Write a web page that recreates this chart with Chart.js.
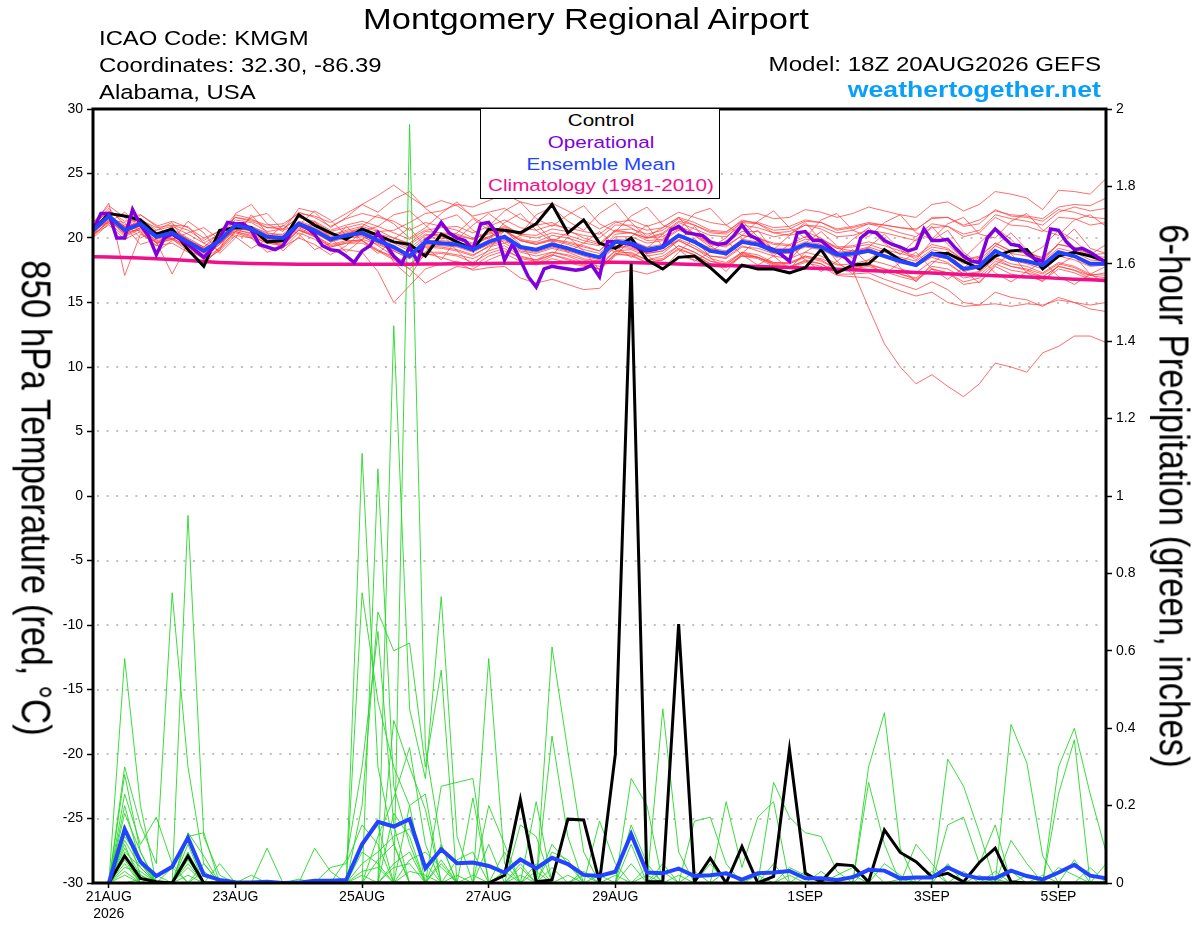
<!DOCTYPE html>
<html>
<head>
<meta charset="utf-8">
<title>Montgomery Regional Airport - GEFS</title>
<script src="https://cdn.jsdelivr.net/npm/chart.js@4.4.1/dist/chart.umd.min.js"></script>
<style>
  html, body { margin: 0; padding: 0; background: #fff; }
  #wrap { position: relative; width: 1200px; height: 927px; overflow: hidden;
          font-family: 'Liberation Sans', Arial, sans-serif; }
  #wrap canvas { position: absolute; left: 0; top: 0; }
  .txt { position: absolute; white-space: nowrap; line-height: 1; color: #000; }
  .left { transform-origin: left center; transform: scaleX(1.2); }
  .right { transform-origin: right center; transform: scaleX(1.2); }
  .center { transform: translateX(-50%) scaleX(1.2); }
  .vert { transform: translate(-50%, -50%) rotate(90deg) scaleY(1.2); font-size: 34.8px; }
  #legendBox { position: absolute; left: 479.5px; top: 108px; width: 240px; height: 91px;
               box-sizing: border-box; border: 1.5px solid #000; background: #fff; }
  #legendBox .txt { font-size: 17.2px; left: 120px; }
</style>
</head>
<body>
<div id="wrap">
  <canvas id="gefs"></canvas>

  <div class="txt center" style="left:586px; top:5px; font-size:28.7px;">Montgomery Regional Airport</div>
  <div class="txt left" style="left:98.5px; top:28.9px; font-size:19.9px;">ICAO Code: KMGM</div>
  <div class="txt left" style="left:98.5px; top:55.9px; font-size:19.9px;">Coordinates: 32.30, -86.39</div>
  <div class="txt left" style="left:98.5px; top:82.5px; font-size:19.9px;">Alabama, USA</div>
  <div class="txt right" style="right:99.5px; top:53.7px; font-size:20.1px;">Model: 18Z 20AUG2026 GEFS</div>
  <div class="txt right" style="right:99px; top:78.5px; font-size:22.2px; font-weight:bold; color:#0aa0f7;">weathertogether.net</div>

  <div id="legendBox">
    <div class="txt center" style="top:3px; color:#000;">Control</div>
    <div class="txt center" style="top:24.5px; color:#8000dd;">Operational</div>
    <div class="txt center" style="top:46.5px; color:#2244ff;">Ensemble Mean</div>
    <div class="txt center" style="top:68px; color:#f0108c;">Climatology (1981-2010)</div>
  </div>

  <div class="txt vert" style="left:35px; top:498px;">850 hPa Temperature (red, °C)</div>
  <div class="txt vert" style="left:1173px; top:496px;">6-hour Precipitation (green, inches)</div>
</div>

<script>
// valid times: 6-hourly from 18Z 20AUG2026 (hour 0) to hour 384
const stepHours = 6;
const opStepHours = 3;   // operational run is 3-hourly

const tickHours = [6, 54, 102, 150, 198, 270, 318, 366];
const tickLabels = [['21AUG', '2026'], '23AUG', '25AUG', '27AUG', '29AUG', '1SEP', '3SEP', '5SEP'];

// 850 hPa temperature (C)
const controlTemp = [
  20.6, 21.9, 21.7, 21.4, 20.3, 20.7, 19.1, 17.8, 20.6, 20.8,
  20.8, 19.7, 19.8, 21.8, 21.0, 20.4, 19.9, 20.7, 20.2, 19.7,
  19.5, 18.6, 20.3, 19.7, 19.1, 20.7, 20.6, 20.4, 21.1, 22.6,
  20.4, 21.4, 19.6, 19.2, 20.0, 18.3, 17.6, 18.5, 18.6, 17.7,
  16.6, 17.9, 17.6, 17.6, 17.3, 17.7, 19.1, 17.3, 17.9, 18.0,
  19.1, 18.3, 17.9, 18.8, 18.8, 18.2, 17.6, 18.6, 19.0, 19.1,
  17.6, 18.6, 18.9, 18.6, 18.2
];

const meanTemp = [
  20.6, 21.7, 20.6, 21.1, 20.1, 20.4, 19.7, 19.0, 19.8, 21.0,
  20.7, 20.1, 20.0, 21.1, 20.6, 19.9, 20.2, 20.4, 19.8, 19.3,
  18.6, 19.7, 19.6, 19.5, 19.1, 19.7, 20.1, 19.3, 19.1, 19.5,
  19.2, 18.8, 18.5, 19.7, 19.6, 19.1, 19.3, 20.2, 19.7, 19.0,
  18.8, 19.7, 19.5, 19.0, 19.0, 19.5, 19.3, 18.7, 18.8, 19.0,
  18.6, 18.2, 17.9, 18.8, 18.5, 17.6, 17.8, 19.0, 18.4, 18.2,
  17.9, 18.9, 18.6, 18.0, 18.0
];

const operationalTemp = [
  20.6, 21.9, 21.9, 20.0, 20.0, 22.2, 21.0, 20.2, 18.7, 20.0,
  20.3, 19.9, 19.5, 19.0, 18.5, 19.1, 20.0, 21.2, 21.1, 21.1,
  20.6, 19.5, 19.3, 19.1, 19.4, 20.4, 21.1, 20.8, 20.3, 19.4,
  19.1, 19.0, 18.6, 18.1, 19.0, 19.4, 20.4, 19.5, 18.6, 18.0,
  19.3, 18.2, 19.8, 20.3, 21.2, 20.4, 20.0, 19.8, 19.1, 21.1,
  21.2, 20.4, 18.3, 19.5, 18.3, 17.0, 16.2, 17.6, 17.8, 17.7,
  17.6, 17.5, 17.6, 17.9, 17.0, 19.7, 19.7, 19.6, 19.5, 19.2,
  19.0, 19.1, 19.3, 20.6, 20.9, 20.4, 20.3, 20.2, 19.7, 19.5,
  19.6, 20.2, 21.0, 20.2, 19.9, 19.3, 19.1, 18.7, 18.2, 20.4,
  20.5, 19.8, 19.8, 19.3, 18.8, 18.5, 17.9, 20.0, 20.5, 20.4,
  19.8, 19.5, 19.3, 19.0, 19.2, 20.7, 19.8, 19.8, 19.9, 19.2,
  18.6, 18.2, 18.1, 20.0, 20.7, 20.1, 19.5, 19.4, 18.8, 18.4,
  18.2, 20.7, 20.6, 19.7, 19.1, 19.2, 18.9, 18.5, 18.1
];

const climatologyTemp = [
  18.55, 18.52, 18.48, 18.44, 18.39, 18.33, 18.26, 18.18, 18.11, 18.06,
  18.02, 18.00, 17.98, 17.97, 17.96, 17.96, 17.96, 17.96, 17.96, 17.97,
  17.97, 17.98, 17.99, 18.00, 18.01, 18.02, 18.04, 18.05, 18.07, 18.08,
  18.10, 18.11, 18.12, 18.12, 18.10, 18.07, 18.03, 17.99, 17.95, 17.91,
  17.87, 17.83, 17.79, 17.75, 17.71, 17.67, 17.63, 17.58, 17.53, 17.48,
  17.43, 17.38, 17.33, 17.28, 17.23, 17.18, 17.13, 17.08, 17.03, 16.98,
  16.93, 16.87, 16.81, 16.76, 16.70
];

const tempMembers = [
  [20.9,22.3,21.0,21.5,20.6,20.9,20.3,19.6,20.3,21.4, 21.2,20.5,20.7,21.6,21.3,20.6,21.0,21.3,20.9,20.4,
   19.9,20.6,20.8,20.9,20.4,20.9,21.4,20.8,20.6,21.0, 20.8,20.5,20.3,21.2,21.4,20.9,21.3,22.0,21.6,21.2,
   21.0,21.8,21.9,21.5,21.6,22.2,22.0,21.6,21.9,22.4, 22.1,21.8,21.6,22.6,22.8,22.1,22.6,23.6,23.4,23.1,
   22.2,23.7,23.6,23.4,24.6],
  [20.4,21.5,20.2,20.8,19.8,20.0,19.3,18.7,19.5,20.6, 20.4,19.8,19.6,20.8,20.2,19.4,19.7,19.9,19.5,19.0,
   18.4,19.3,19.2,19.0,18.6,19.4,19.8,19.0,18.8,19.2, 18.9,18.4,18.2,19.3,19.2,18.8,19.0,19.9,19.4,18.6,
   18.5,19.4,19.0,18.6,18.4,18.9,18.6,18.0,17.5,14.6, 11.8,10.0,8.7,9.4,8.5,7.7,8.7,10.3,10.0,9.6,
   11.1,11.6,12.4,12.4,11.9],
  [20.2,21.3,20.5,20.6,19.6,19.9,19.2,18.4,19.2,20.5, 20.1,19.6,19.4,20.6,20.1,19.3,19.6,19.8,19.0,18.3,
   17.6,18.7,18.8,18.6,18.1,18.8,19.2,18.4,18.2,18.7, 18.3,17.9,17.6,18.8,18.9,18.3,18.6,19.4,18.9,18.2,
   18.0,18.8,18.5,18.0,17.8,18.2,18.0,17.2,17.2,17.3, 16.8,16.4,16.0,16.6,16.0,15.0,14.8,15.8,15.4,15.2,
   14.7,15.4,15.0,14.5,14.3],
  [21.0,22.1,21.3,21.4,20.8,21.0,20.6,19.8,20.6,21.6, 21.4,21.0,21.1,21.9,21.7,21.2,21.9,22.6,23.3,24.1,
   23.2,22.4,22.9,22.5,21.7,22.0,22.3,21.5,21.0,21.2, 20.6,20.0,19.6,20.6,20.4,19.8,19.9,20.7,20.3,19.6,
   19.4,20.2,20.0,19.6,19.5,20.1,19.9,19.3,19.4,19.7, 19.4,19.0,18.6,19.5,19.2,18.3,18.6,19.6,19.0,18.9,
   18.4,19.5,19.3,18.7,18.8],
  [20.3,21.0,19.9,20.5,19.4,19.6,18.9,18.1,19.1,20.4, 20.0,19.3,19.2,20.4,19.9,19.0,19.1,18.9,17.4,15.0,
   16.3,17.6,18.0,18.2,17.8,18.6,19.0,18.5,18.3,18.9, 18.7,18.3,18.0,19.0,19.1,18.6,18.8,19.8,19.2,18.6,
   18.4,19.3,19.2,18.8,18.8,19.3,19.1,18.5,18.6,18.9, 18.6,18.2,17.8,18.6,18.4,17.4,17.7,18.8,18.3,18.0,
   17.6,18.6,18.3,17.8,17.9],
  [20.7,21.9,20.8,21.3,20.3,20.7,20.0,19.3,20.1,21.2, 20.9,20.3,20.3,21.3,20.9,20.2,20.6,20.9,20.5,20.6,
   21.2,21.9,22.1,22.6,22.4,22.9,23.4,22.8,22.5,22.7, 22.1,21.4,20.7,21.3,20.8,20.0,20.1,20.9,20.4,19.7,
   19.6,20.5,20.5,20.1,20.3,21.0,20.9,20.4,20.6,21.1, 21.0,20.8,20.7,21.5,21.6,20.9,21.1,22.2,21.7,21.6,
   21.3,22.2,22.0,21.6,21.5],
  [20.5,21.6,20.4,21.0,19.9,20.2,19.4,18.8,19.6,20.9, 20.5,19.9,19.8,20.9,20.4,19.7,20.0,20.1,19.6,19.0,
   18.4,19.4,19.3,19.1,18.7,19.3,19.6,18.9,18.6,18.9, 18.6,18.1,17.8,19.0,18.8,18.3,18.4,19.4,18.9,18.2,
   17.9,18.9,18.7,18.1,18.0,18.6,18.3,17.6,17.7,18.0, 17.6,17.2,16.8,17.6,17.3,16.4,16.6,17.8,17.2,17.0,
   16.7,17.6,17.3,16.8,16.8],
  [20.8,21.8,20.9,21.2,20.2,20.6,19.9,19.2,19.9,21.1, 20.9,20.4,20.2,21.2,20.8,20.1,20.5,20.7,20.3,20.0,
   19.5,20.3,20.1,20.0,19.6,20.1,20.6,19.9,19.7,20.2, 20.0,19.6,19.4,20.6,20.7,20.3,20.6,21.5,21.0,20.4,
   20.3,21.2,21.1,20.6,20.7,21.3,21.2,20.6,20.8,21.1, 20.8,20.4,20.1,21.1,20.9,20.1,20.4,21.6,21.0,20.9,
   20.5,21.6,21.5,21.0,21.2],
  [20.6,21.5,20.5,20.9,20.0,20.3,19.6,18.9,19.7,20.8, 20.6,20.0,19.9,20.9,20.4,19.8,20.1,20.2,19.4,18.6,
   17.6,16.5,17.2,17.8,17.6,18.3,18.8,18.2,17.9,18.4, 18.1,17.8,17.6,18.7,18.7,18.1,18.3,19.1,18.7,18.0,
   17.8,18.6,18.4,17.8,17.7,18.3,18.0,17.4,17.6,17.8, 17.4,17.0,16.7,17.6,17.3,16.6,16.9,18.0,17.5,17.3,
   17.0,17.8,17.5,17.1,16.9],
  [21.0,22.7,17.1,20.3,19.7,17.2,19.6,19.2,19.6,20.7, 20.6,19.7,19.8,21.2,20.6,19.7,20.3,20.6,20.0,19.6,
   19.0,20.0,20.0,19.9,19.5,20.0,20.5,19.8,19.6,19.9, 19.7,19.4,19.0,20.1,20.1,19.6,19.8,20.6,20.2,19.5,
   19.3,20.2,20.0,19.5,19.4,19.9,19.8,19.2,19.3,19.5, 19.1,18.8,18.5,19.3,19.1,18.3,18.5,19.6,19.0,18.8,
   18.5,19.5,19.2,18.6,18.5],
  [21.2,22.5,21.6,21.8,20.9,21.3,20.8,20.0,20.5,21.8, 21.5,20.8,20.7,21.6,21.2,20.5,20.8,21.1,20.6,20.0,
   19.6,20.5,20.4,20.3,19.9,20.4,20.8,20.2,20.0,20.4, 20.2,19.8,19.5,20.5,20.4,20.0,20.3,21.2,20.7,20.2,
   20.1,21.0,20.8,20.4,20.5,21.0,20.7,20.1,20.2,20.6, 20.4,20.1,19.8,20.8,20.9,20.3,20.6,21.8,21.5,21.3,
   21.0,22.0,22.4,22.1,22.3],
  [20.4,21.4,20.3,20.8,19.7,20.0,19.3,18.6,19.5,20.7, 20.3,19.7,19.5,20.7,20.1,19.3,19.6,19.6,19.0,18.6,
   18.0,18.8,18.5,18.1,17.5,17.7,17.8,16.9,16.5,16.8, 16.4,16.0,16.1,17.3,17.5,17.2,17.6,18.6,18.3,17.8,
   17.7,18.6,18.5,18.1,18.1,18.6,18.4,17.9,18.0,18.3, 18.0,17.6,17.3,18.2,18.0,17.2,17.4,18.5,18.0,17.8,
   17.3,18.1,17.8,17.2,17.1],
  [20.2,22.0,21.6,20.4,19.4,21.0,20.9,19.6,19.0,21.9, 22.6,21.1,20.5,22.3,22.0,20.8,21.6,22.6,22.0,23.0,
   23.6,22.3,21.4,21.8,20.6,19.9,21.2,21.9,20.6,19.7, 20.4,21.3,19.6,18.9,20.1,21.0,19.3,19.8,20.9,19.4,
   18.6,19.9,20.6,19.0,18.3,19.6,20.5,19.4,18.4,19.3, 20.3,19.1,18.3,19.8,20.6,18.9,18.0,19.4,20.4,19.1,
   18.2,19.6,20.7,19.2,18.8],
  [20.5,21.7,20.6,21.0,20.0,20.3,19.5,18.9,19.8,21.0, 20.6,20.0,19.9,21.0,20.5,19.8,20.1,20.3,19.7,19.2,
   18.5,19.5,19.4,19.3,18.9,19.5,19.9,19.1,18.9,19.3, 19.0,18.6,18.3,19.4,19.3,18.8,19.0,19.8,19.2,18.4,
   18.1,18.9,18.5,17.9,17.7,18.1,17.8,17.1,17.0,16.9, 16.4,15.9,15.5,15.8,15.0,14.7,14.8,14.9,14.7,14.9,
   14.8,15.2,15.0,14.8,15.0],
  [20.0,21.1,20.9,19.5,19.9,20.8,19.0,18.5,20.6,20.1, 19.2,19.9,21.0,20.3,19.1,19.6,20.9,19.8,18.8,19.9,
   20.8,19.3,18.3,19.9,21.0,21.9,21.0,20.3,21.8,22.4, 21.3,20.6,21.9,22.7,21.2,20.1,20.8,21.6,20.2,19.3,
   20.0,21.3,20.1,19.1,20.2,21.2,19.8,18.8,19.9,20.8, 19.6,18.7,19.9,20.9,19.5,18.4,19.6,20.8,19.9,18.6,
   19.3,20.6,19.8,18.7,19.5],
  [20.3,21.2,20.1,20.7,19.6,19.9,19.0,17.9,19.3,20.5, 20.2,19.6,19.5,20.6,20.2,19.5,19.8,19.8,19.1,18.4,
   17.9,18.9,18.9,18.7,18.4,19.0,19.4,18.6,18.3,18.7, 18.4,18.0,17.6,18.8,18.6,18.1,18.3,19.2,18.7,18.0,
   17.8,18.7,18.5,18.0,18.0,18.5,18.2,17.6,17.7,17.9, 17.6,17.2,16.9,17.8,17.6,16.9,17.1,18.2,17.8,17.6,
   17.2,18.0,17.7,17.1,17.3],
  [20.6,21.6,20.8,21.2,20.3,20.5,19.8,19.3,20.4,21.6, 21.3,20.8,20.9,22.0,21.6,20.9,21.5,21.9,21.6,21.3,
   20.6,21.2,20.9,20.6,20.0,20.3,20.6,19.8,19.5,19.8, 19.5,19.1,18.8,19.9,19.8,19.3,19.5,20.3,19.8,19.2,
   19.0,19.9,19.7,19.2,19.2,19.7,19.5,18.9,19.0,19.3, 18.9,18.5,18.2,19.1,18.8,18.0,18.3,19.4,18.8,18.6,
   18.2,19.2,18.9,18.3,18.2],
  [20.7,21.9,20.5,21.3,20.4,20.6,19.9,19.1,19.9,21.2, 20.8,20.1,20.0,21.0,20.5,19.8,20.2,20.3,19.7,19.1,
   18.7,19.8,19.8,19.7,19.4,20.1,20.6,19.8,19.5,19.9, 19.6,19.3,19.0,20.3,20.4,20.0,20.4,21.3,21.0,20.5,
   20.4,21.4,21.1,20.4,20.2,20.5,20.0,19.2,19.0,19.2, 18.7,18.2,17.8,18.5,18.1,17.2,17.3,18.4,17.8,17.5,
   17.0,17.8,17.5,16.9,16.7],
  [20.7,21.2,22.0,20.9,18.9,19.8,21.3,20.4,18.8,20.0, 21.8,20.4,19.0,20.1,21.3,20.0,18.9,19.9,20.6,18.1,
   17.0,18.9,20.4,19.0,17.9,19.1,20.6,19.5,18.0,18.6, 20.1,19.0,17.5,18.6,19.9,18.7,17.6,18.9,20.0,18.5,
   17.4,18.8,19.9,18.6,17.6,18.9,19.7,18.2,17.2,18.3, 19.2,17.7,16.6,18.0,19.0,17.5,16.5,17.9,18.8,17.3,
   16.6,17.9,18.6,17.2,16.5],
  [20.8,21.7,20.9,21.1,20.3,20.6,19.8,19.1,19.8,20.9, 20.7,20.2,20.1,21.1,20.6,20.0,20.4,20.6,20.1,19.7,
   19.2,20.2,20.3,20.2,19.9,20.5,20.9,20.3,20.2,20.7, 20.5,20.2,20.0,21.0,21.0,20.6,20.8,21.6,21.2,20.6,
   20.5,21.3,21.2,20.8,20.9,21.4,21.2,20.7,20.9,21.2, 21.0,20.8,20.6,21.6,21.6,21.0,21.4,22.1,21.8,21.7,
   21.5,22.4,22.6,22.5,23.1],
  [21.3,21.9,20.3,21.8,21.0,19.9,20.4,20.8,19.9,20.5, 21.6,21.9,20.6,21.0,22.1,21.4,20.2,20.9,21.8,21.1,
   20.0,20.8,21.9,22.8,21.6,20.9,22.1,22.8,21.5,20.9, 21.8,22.5,21.1,20.5,21.7,22.4,21.0,20.6,21.9,22.3,
   21.0,20.2,21.3,22.1,20.8,20.0,21.4,21.9,20.6,20.1, 21.2,21.8,20.4,19.9,21.1,21.6,20.3,20.0,21.3,21.9,
   20.6,20.2,21.4,21.8,20.9],
  [20.1,21.4,21.2,20.0,20.6,21.2,19.4,18.3,19.0,20.2, 20.0,18.9,19.3,20.0,19.5,18.7,19.4,20.5,20.9,21.8,
   22.1,21.0,19.9,20.4,21.5,20.6,19.6,20.2,21.1,19.8, 18.9,19.6,20.5,19.4,18.5,19.2,20.3,19.1,18.2,18.9,
   19.8,18.7,17.9,18.6,19.5,18.3,17.4,18.2,19.1,18.0, 17.2,18.1,18.9,17.6,16.8,17.7,18.5,17.3,16.6,17.4,
   18.2,17.0,16.4,17.2,17.8]
];

// 6-hour precipitation (inches); no value at the analysis time
const controlPrecip = [
  null, 0, 0.07, 0.012, 0.003, 0, 0.07, 0, 0, 0,
  0, 0, 0, 0, 0, 0, 0, 0, 0, 0,
  0, 0, 0, 0, 0, 0, 0.02, 0.216, 0.003, 0.008,
  0.165, 0.163, 0.003, 0.333, 1.6, 0.003, 0.003, 0.669, 0.003, 0.064,
  0, 0.094, 0, 0.017, 0.345, 0.025, 0.003, 0.048, 0.045, 0.003,
  0.137, 0.079, 0.055, 0.016, 0.025, 0.003, 0.053, 0.09, 0.003, 0,
  0, 0, 0, 0, 0
];

const meanPrecip = [
  null, 0, 0.139, 0.055, 0.018, 0.042, 0.117, 0.021, 0.008, 0.002,
  0.001, 0.003, 0, 0.001, 0.006, 0.006, 0.008, 0.1, 0.158, 0.146,
  0.165, 0.038, 0.087, 0.051, 0.053, 0.044, 0.027, 0.061, 0.038, 0.065,
  0.049, 0.021, 0.018, 0.029, 0.126, 0.027, 0.025, 0.037, 0.018, 0.02,
  0.025, 0.009, 0.025, 0.027, 0.031, 0.012, 0.012, 0.008, 0.015, 0.034,
  0.032, 0.012, 0.014, 0.014, 0.04, 0.021, 0.012, 0.012, 0.032, 0.018,
  0.009, 0.027, 0.047, 0.019, 0.012
];

const precipMembers = [
  [null,0,0.58,0.2,0,0,0,0,0,0, 0,0,0,0,0,0,0,0.75,0.47,0.3, 0.2,0,0.05,0,0,0,0,0,0,0.61,
   0.34,0.08,0,0,0,0,0,0,0,0, 0,0,0,0,0,0,0,0,0,0.3, 0.44,0.09,0,0,0,0,0,0,0,0, 0,0,0,0,0],
  [null,0,0.3,0.15,0.05,0.75,0.3,0.05,0,0, 0,0,0,0,0,0,0,1.11,0.3,0.1, 0,0,0,0,0,0.2,0.1,0,0,0,
   0,0,0,0,0,0,0.45,0.08,0,0, 0,0,0,0,0,0,0,0,0,0, 0,0,0,0,0,0,0,0,0.41,0.31, 0.07,0,0,0,0],
  [null,0,0.28,0.08,0,0,0.95,0.12,0.02,0, 0,0,0,0,0,0,0,0,1.07,0.25, 0.1,0,0.25,0.26,0.27,0,0,0,0,0,
   0,0,0,0,0.27,0.2,0,0,0,0, 0,0,0,0.26,0.17,0.13,0.12,0.03,0,0, 0,0,0,0,0,0,0,0,0,0, 0,0,0,0,0],
  [null,0,0.23,0.1,0.17,0.05,0,0,0,0, 0,0,0,0,0,0,0,0,0,1.44, 0.45,0.27,0.74,0.12,0,0,0,0,0,0.38,
   0.12,0,0,0,0,0,0,0,0,0, 0,0,0,0,0,0,0,0,0,0, 0,0,0,0,0.32,0.25,0.13,0,0,0, 0,0,0,0,0],
  [null,0,0.2,0.05,0,0,0.12,0.13,0,0, 0,0,0,0,0,0,0,0,0,0, 1.96,0.35,0.1,0,0,0.58,0.05,0,0,0,
   0,0,0,0,0,0,0,0,0,0, 0,0,0,0,0,0,0,0,0,0, 0,0,0,0,0,0,0,0,0,0, 0,0.3,0.4,0.23,0.08],
  [null,0,0.15,0.02,0,0,0.13,0.07,0,0, 0,0,0,0,0,0,0,0.2,0.7,0.6, 0.62,0.3,0.55,0,0,0,0,0,0.21,0,
   0,0,0,0,0,0,0,0,0,0, 0.21,0.04,0.17,0.21,0,0,0,0,0,0, 0,0,0,0,0,0,0,0,0,0, 0,0.23,0.37,0,0],
  [null,0,0.13,0.05,0,0,0,0,0,0, 0,0.09,0,0,0,0,0,0.1,0.15,0, 0.2,0.23,0,0,0.22,0,0,0.15,0.12,0,
   0,0,0.16,0.05,0,0,0,0,0,0, 0,0,0,0,0,0,0,0,0,0.26, 0.1,0,0,0,0,0,0,0,0.11,0.05, 0,0,0,0,0],
  [null,0,0.1,0,0,0,0.1,0,0,0, 0,0,0,0,0.09,0.03,0,0,0,0.42, 0.3,0.19,0,0,0,0,0,0,0,0,
   0,0,0,0,0.15,0.05,0,0,0.16,0.17, 0.05,0,0,0,0,0,0,0,0,0, 0,0,0,0,0.15,0.17,0.05,0.15,0,0, 0,0,0,0,0],
  [null,0,0.08,0.04,0,0,0,0,0,0, 0,0,0,0,0,0,0.06,0.3,0.65,0.15, 0,0,0.1,0,0,0,0.08,0,0,0.1,
   0.05,0,0,0,0.1,0,0,0,0,0, 0,0,0,0,0,0.03,0,0,0,0, 0,0,0.1,0.05,0,0,0,0,0,0, 0,0,0,0,0],
  [null,0,0.05,0,0,0,0.08,0,0,0, 0.02,0,0,0,0,0.04,0.05,0.15,0.1,0, 0,0,0,0,0,0,0,0.05,0,0,
   0,0,0,0,0,0,0.05,0,0,0, 0,0,0,0,0,0,0,0.02,0.04,0, 0,0,0,0,0,0,0,0.03,0,0, 0,0,0,0.04,0],
  [null,0,0.04,0.03,0,0,0.06,0,0,0, 0,0,0,0,0,0,0,0,0,0.18, 0.12,0,0,0.06,0.08,0,0,0,0,0,
   0,0.03,0,0,0,0,0,0.02,0,0, 0,0,0,0,0,0,0,0,0,0, 0.05,0.02,0,0,0,0,0,0,0,0, 0,0,0,0,0],
  [null,0,0.12,0.06,0,0,0,0.05,0,0, 0,0,0,0,0,0,0,0.05,0.08,0.12, 0.14,0.05,0,0,0,0,0,0,0.05,0,
   0,0,0,0,0,0.04,0,0,0,0, 0,0,0,0,0.04,0.02,0,0,0,0, 0,0,0,0,0,0,0,0,0,0.02, 0,0,0.06,0,0],
  [null,0,0.18,0.08,0,0,0.05,0,0,0, 0,0,0,0,0,0,0,0,0.12,0.22, 0.35,0.1,0,0,0,0,0,0,0,0.08,
   0.06,0,0,0,0,0,0,0,0,0.05, 0,0,0,0,0,0,0.03,0,0,0, 0,0,0,0,0.05,0,0,0,0,0, 0,0,0,0,0.05],
  [null,0,0.07,0,0,0.04,0,0,0,0, 0,0,0,0,0,0,0,0.08,0.05,0, 0,0,0.06,0,0,0,0.03,0,0,0,
   0,0,0,0.02,0,0,0,0,0,0, 0,0,0,0.05,0,0,0,0,0,0, 0,0,0,0.03,0,0,0,0,0,0, 0.02,0,0,0,0],
  [null,0,0.02,0,0,0,0,0,0.05,0, 0,0,0,0.01,0,0,0,0,0,0.05, 0.08,0,0,0,0,0.1,0,0.04,0,0,
   0,0,0,0,0,0,0.03,0,0,0, 0,0,0.02,0,0,0,0,0,0,0, 0,0,0,0,0,0.03,0,0,0,0, 0,0,0,0,0],
  [null,0,0.09,0.02,0,0,0.04,0,0,0, 0,0,0,0,0,0,0,0.02,0,0, 0.06,0.08,0.04,0,0,0,0,0,0,0,
   0.02,0,0,0,0.05,0,0,0,0,0, 0,0,0,0,0,0,0,0,0,0.04, 0,0,0,0,0,0,0,0,0.03,0, 0,0,0,0,0],
  [null,0,0.11,0.04,0,0,0,0.03,0,0, 0,0,0,0,0,0,0,0,0.06,0.1, 0,0,0,0,0,0,0,0,0.03,0,
   0,0,0.02,0,0,0,0,0,0.03,0, 0,0,0,0,0,0,0,0,0.02,0, 0,0,0,0,0,0,0,0,0,0, 0,0.04,0.02,0,0],
  [null,0,0.06,0,0.02,0,0,0,0,0, 0,0,0,0,0,0,0,0,0,0.04, 0.05,0,0,0.02,0,0,0,0,0,0.04,
   0,0,0,0,0,0,0,0,0,0, 0.03,0,0,0,0,0,0,0,0,0, 0,0.01,0,0,0,0,0,0,0,0, 0,0,0,0,0],
  [null,0,0,0.01,0,0,0,0,0,0, 0,0,0,0,0,0,0,0.03,0.04,0, 0,0,0,0,0.02,0,0,0,0,0,
   0,0.02,0,0,0,0.02,0,0,0,0, 0,0,0,0,0,0,0,0,0,0, 0,0,0,0,0,0,0.02,0,0,0, 0,0,0,0,0],
  [null,0,0.03,0,0,0,0.02,0,0,0, 0,0,0,0,0,0,0,0,0,0, 0.03,0.02,0,0,0,0,0,0.02,0,0,
   0,0,0,0,0,0,0,0,0,0, 0,0,0,0,0.02,0,0,0,0,0, 0,0,0,0,0,0,0,0.01,0,0, 0,0,0,0,0]
];

const toPoints = (values, step) => values.map((v, i) => ({ x: i * step, y: v }));

const frameAndGrid = {
    id: 'frameAndGrid',

    beforeDatasetsDraw(chart) {
        const { ctx, chartArea: { left, right }, scales: { yT } } = chart;
        ctx.save();
        ctx.strokeStyle = '#acacac';
        ctx.lineWidth = 1.5;
        ctx.setLineDash([2, 7.6]);
        yT.ticks
            .filter(t => t.value > yT.min && t.value < yT.max)
            .forEach(t => {
                const y = Math.round(yT.getPixelForValue(t.value));
                ctx.beginPath();
                ctx.moveTo(left + 4, y);
                ctx.lineTo(right, y);
                ctx.stroke();
            });
        ctx.restore();
    },

    afterDatasetsDraw(chart) {
        const { ctx, chartArea: { left, top, width, height } } = chart;
        ctx.save();
        ctx.strokeStyle = '#000';
        ctx.lineWidth = 3;
        ctx.strokeRect(left, top, width, height);
        ctx.restore();
    }
};

const tickFont = { family: "'Liberation Sans', Arial, sans-serif", size: 14 };

const datasets = [];
tempMembers.forEach(m => datasets.push({
    data: toPoints(m, stepHours), yAxisID: 'yT',
    borderColor: 'rgba(255, 60, 60, 0.75)', borderWidth: 1, order: 9
}));
precipMembers.forEach(m => datasets.push({
    data: toPoints(m, stepHours), yAxisID: 'yP',
    borderColor: 'rgba(40, 215, 40, 0.9)', borderWidth: 1, order: 8
}));
datasets.push(
    { label: 'Climatology (1981-2010)', data: toPoints(climatologyTemp, stepHours), yAxisID: 'yT',
      borderColor: '#f0108c', borderWidth: 3.5, order: 6 },
    { label: 'Control precip', data: toPoints(controlPrecip, stepHours), yAxisID: 'yP',
      borderColor: '#000', borderWidth: 3, order: 5 },
    { label: 'Control', data: toPoints(controlTemp, stepHours), yAxisID: 'yT',
      borderColor: '#000', borderWidth: 3, order: 4 },
    { label: 'Operational', data: toPoints(operationalTemp, opStepHours), yAxisID: 'yT',
      borderColor: '#8000dd', borderWidth: 3.5, order: 3 },
    { label: 'Ensemble Mean precip', data: toPoints(meanPrecip, stepHours), yAxisID: 'yP',
      borderColor: '#2244ff', borderWidth: 4, order: 2 },
    { label: 'Ensemble Mean', data: toPoints(meanTemp, stepHours), yAxisID: 'yT',
      borderColor: '#2244ff', borderWidth: 4, order: 1 }
);

Chart.defaults.color = '#000';
Chart.defaults.font.family = tickFont.family;

new Chart(document.getElementById('gefs'), {
    type: 'line',
    plugins: [frameAndGrid],
    data: { datasets },
    options: {
        responsive: true,
        maintainAspectRatio: false,
        animation: false,
        events: [],
        layout: { padding: { top: 109, left: 0, right: 0, bottom: 0 } },
        elements: {
            point: { radius: 0 },
            line: { tension: 0, fill: false }
        },
        plugins: {
            legend: { display: false },
            tooltip: { enabled: false }
        },
        scales: {
            x: {
                type: 'linear',
                position: 'bottom',
                min: 0,
                max: 384,
                afterBuildTicks: scale => {
                    scale.ticks = tickHours.map(h => ({ value: h }));
                },
                afterFit: scale => { scale.height = 44; },
                ticks: {
                    autoSkip: false,
                    maxRotation: 0,
                    minRotation: 0,
                    padding: 1,
                    font: tickFont,
                    callback: value => tickLabels[tickHours.indexOf(value)]
                },
                grid: { drawOnChartArea: false, drawTicks: true, tickLength: 5, tickColor: '#000', tickWidth: 1.5 },
                border: { display: false }
            },
            yT: {
                axis: 'y',
                type: 'linear',
                position: 'left',
                min: -30,
                max: 30,
                afterFit: scale => { scale.width = 93; },
                ticks: { stepSize: 5, padding: 4, font: tickFont },
                grid: { drawOnChartArea: false, drawTicks: true, tickLength: 6, tickColor: '#000', tickWidth: 1.5 },
                border: { display: false }
            },
            yP: {
                axis: 'y',
                type: 'linear',
                position: 'right',
                min: 0,
                max: 2,
                afterFit: scale => { scale.width = 94; },
                ticks: {
                    stepSize: 0.2,
                    padding: 4,
                    font: tickFont,
                    callback: value => String(Math.round(value * 10) / 10)
                },
                grid: { drawOnChartArea: false, drawTicks: true, tickLength: 6, tickColor: '#000', tickWidth: 1.5 },
                border: { display: false }
            }
        }
    }
});
</script>
</body>
</html>
